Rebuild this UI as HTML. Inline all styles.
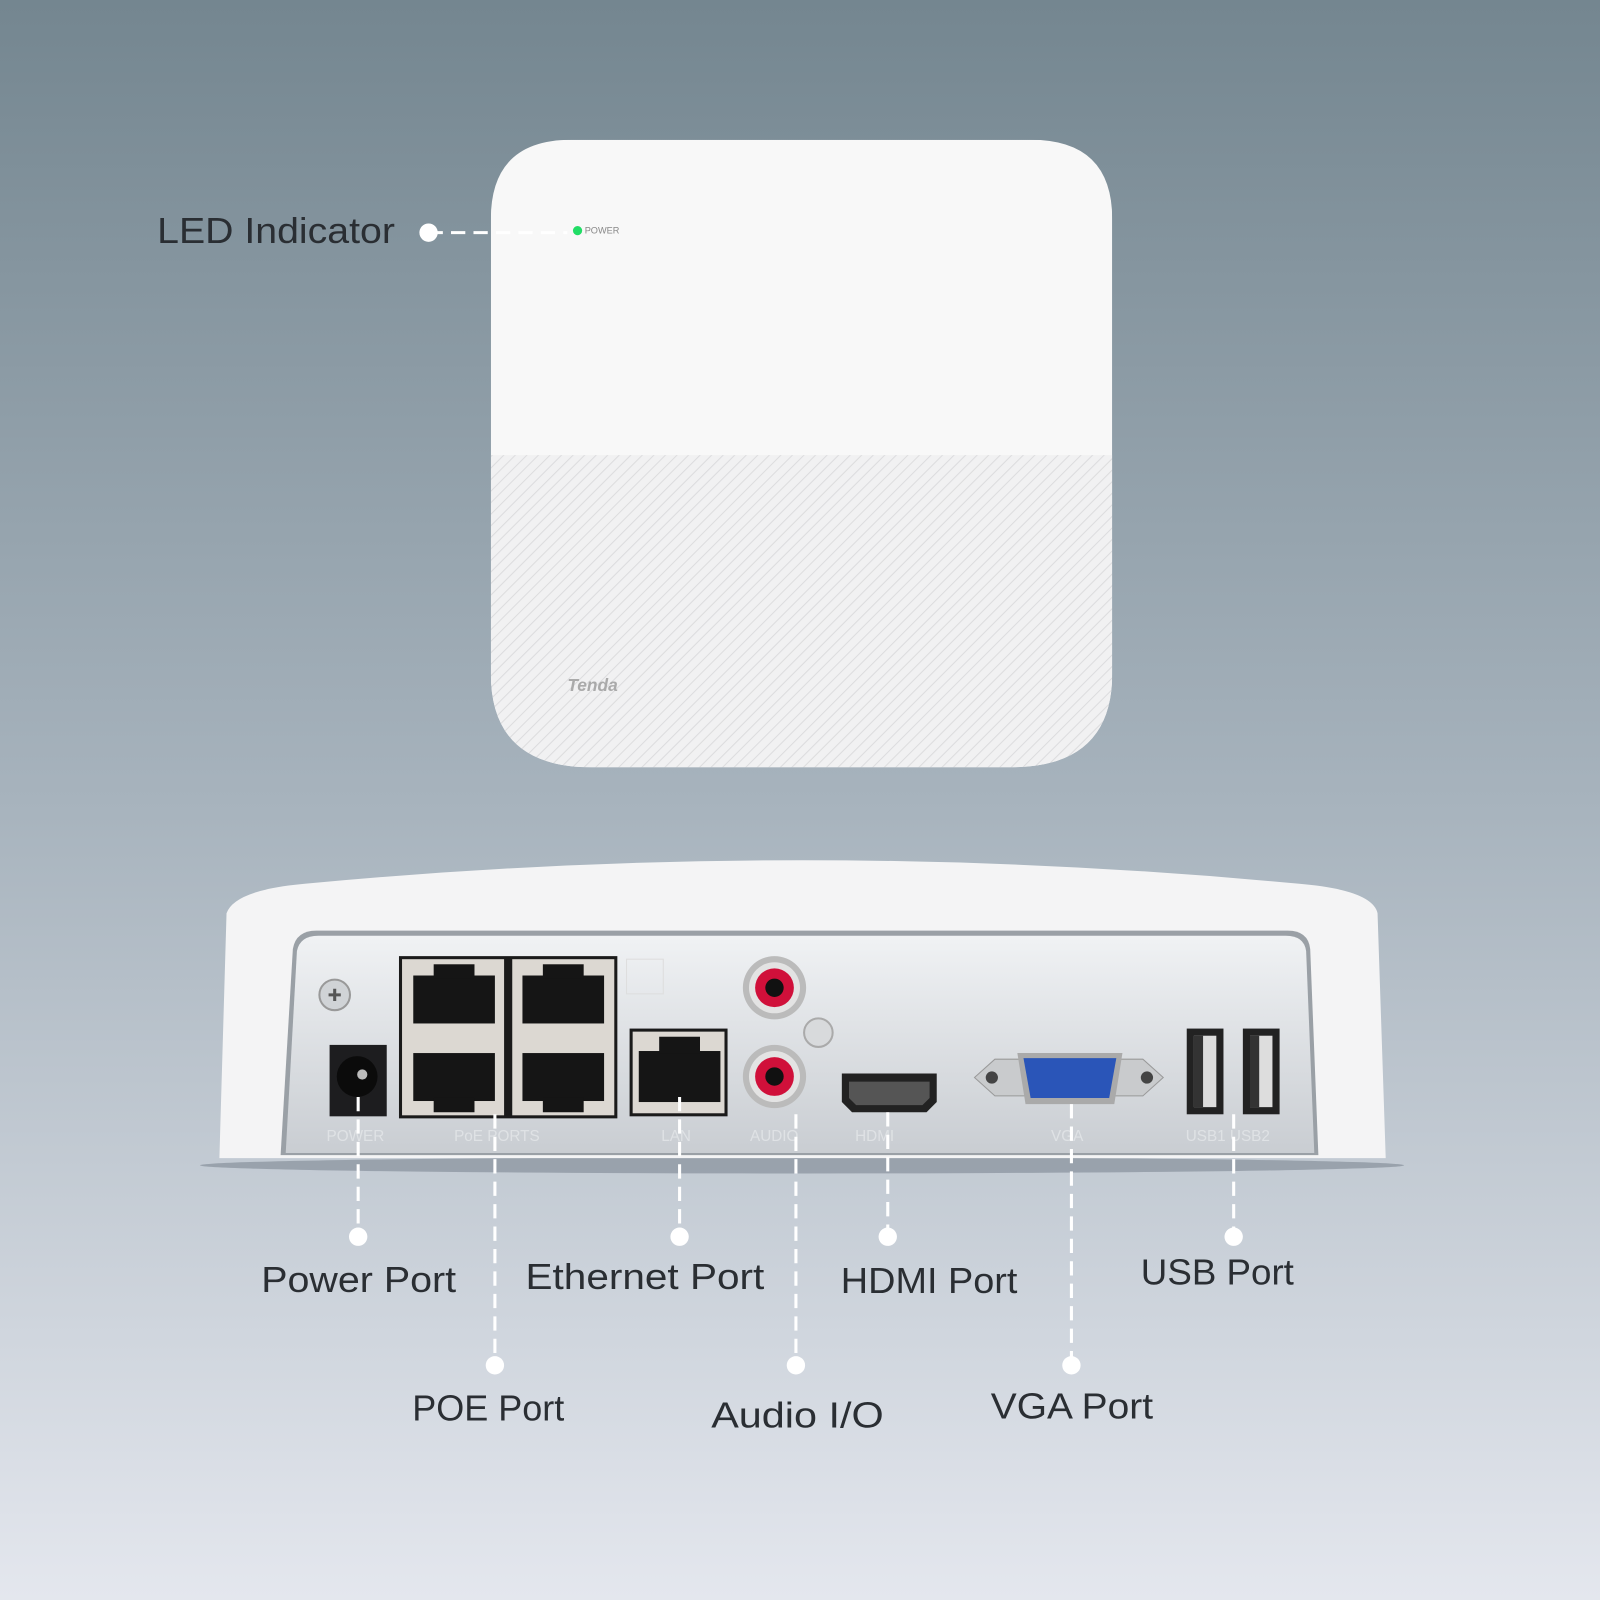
<!DOCTYPE html>
<html><head><meta charset="utf-8"><style>
html,body{margin:0;padding:0;width:1600px;height:1600px;overflow:hidden}
svg{display:block}
text{font-family:"Liberation Sans",sans-serif}
</style></head><body>
<svg width="1600" height="1600" viewBox="0 0 1568 1568" xmlns="http://www.w3.org/2000/svg">
<defs>
<linearGradient id="bg" x1="0" y1="0" x2="0" y2="1">
<stop offset="0" stop-color="#748690"/><stop offset="0.5" stop-color="#a7b3bd"/><stop offset="1" stop-color="#e4e7ee"/>
</linearGradient>
<pattern id="hatch" width="8" height="8" patternUnits="userSpaceOnUse" patternTransform="rotate(45)">
<rect width="8" height="8" fill="#f1f1f2"/><line x1="0" y1="0" x2="0" y2="8" stroke="#dcdcde" stroke-width="2"/>
</pattern>
<linearGradient id="panel" x1="0" y1="0" x2="0" y2="1">
<stop offset="0" stop-color="#f0f2f4"/><stop offset="1" stop-color="#c9cdd2"/>
</linearGradient>
<clipPath id="topc"><path d="M560 137 H1010 Q1090 137 1090 215 V660 Q1090 752 990 752 H580 Q481 752 481 660 V215 Q481 137 560 137 Z"/></clipPath>
</defs>
<rect width="1568" height="1568" fill="url(#bg)"/>

<!-- top device -->
<g clip-path="url(#topc)">
<rect x="481" y="137" width="609" height="615" fill="#f8f8f8"/>
<rect x="481" y="446" width="609" height="306" fill="url(#hatch)"/>
</g>
<circle cx="566" cy="226" r="4.5" fill="#22dd66"/>
<text x="573" y="229" font-size="9" fill="#888">POWER</text>
<text x="556" y="677" font-size="17" font-style="italic" font-weight="bold" fill="#aaa">Tenda</text>
<text x="154" y="238" font-size="35" fill="#2a2e33" textLength="233" lengthAdjust="spacingAndGlyphs">LED Indicator</text>
<circle cx="420" cy="228" r="9" fill="#fff"/>
<line x1="420" y1="228" x2="556" y2="228" stroke="#fff" stroke-width="3" stroke-dasharray="14,8"/>

<!-- bottom device -->
<ellipse cx="786" cy="1142" rx="590" ry="8" fill="#6f7a85" opacity="0.5"/>
<path d="M215 1135 L222 895 Q230 872 300 866 Q786 820 1272 866 Q1345 872 1350 895 L1358 1135 Z" fill="#f4f4f5"/>
<path d="M275 1132 L287 930 Q290 912 310 912 L1262 912 Q1282 912 1284 930 L1292 1132 Z" fill="#9aa0a6"/>
<path d="M280 1130 L291 932 Q294 917 312 917 L1260 917 Q1278 917 1280 932 L1288 1130 Z" fill="url(#panel)"/>
<circle cx="328" cy="975" r="15" fill="#d0d3d6" stroke="#999" stroke-width="2"/>
<path d="M322 975 h12 M328 969 v12" stroke="#555" stroke-width="3"/>
<rect x="323" y="1024" width="56" height="70" fill="#1d1d1f"/>
<circle cx="350" cy="1055" r="20" fill="#0b0b0b"/><circle cx="355" cy="1053" r="5" fill="#bbb"/>
<rect x="391" y="937" width="214" height="159" fill="#1a1a1a"/>
<rect x="394" y="940" width="100" height="153" fill="#dcd8d2"/>
<rect x="502" y="940" width="100" height="153" fill="#dcd8d2"/>
<rect x="405" y="956" width="80" height="47" fill="#151515"/>
<rect x="512" y="956" width="80" height="47" fill="#151515"/>
<rect x="405" y="1032" width="80" height="47" fill="#151515"/>
<rect x="512" y="1032" width="80" height="47" fill="#151515"/>
<rect x="425" y="945" width="40" height="14" fill="#151515"/><rect x="532" y="945" width="40" height="14" fill="#151515"/>
<rect x="425" y="1076" width="40" height="14" fill="#151515"/><rect x="532" y="1076" width="40" height="14" fill="#151515"/>
<rect x="614" y="940" width="36" height="34" fill="none" stroke="#ddd"/>
<rect x="617" y="1008" width="96" height="86" fill="#1a1a1a"/>
<rect x="620" y="1011" width="90" height="80" fill="#dcd8d2"/>
<rect x="626" y="1030" width="80" height="50" fill="#151515"/>
<rect x="646" y="1016" width="40" height="16" fill="#151515"/>
<circle cx="759" cy="968" r="31" fill="#bbb"/><circle cx="759" cy="968" r="25" fill="#e3e3e3"/><circle cx="759" cy="968" r="19" fill="#d0103a"/><circle cx="759" cy="968" r="9" fill="#111"/>
<circle cx="759" cy="1055" r="31" fill="#bbb"/><circle cx="759" cy="1055" r="25" fill="#e3e3e3"/><circle cx="759" cy="1055" r="19" fill="#d0103a"/><circle cx="759" cy="1055" r="9" fill="#111"/>
<circle cx="802" cy="1012" r="14" fill="#d8dadc" stroke="#aaa" stroke-width="2"/>
<path d="M825 1052 H918 V1080 L908 1090 H835 L825 1080 Z" fill="#222"/>
<path d="M832 1060 H911 V1076 L904 1083 H839 L832 1076 Z" fill="#555"/>
<path d="M955 1056 L975 1038 H1120 L1140 1056 L1120 1074 H975 Z" fill="#c9cbcd" stroke="#999"/>
<circle cx="972" cy="1056" r="6" fill="#444"/><circle cx="1124" cy="1056" r="6" fill="#444"/>
<path d="M997 1032 H1100 L1092 1082 H1005 Z" fill="#aaa"/>
<path d="M1003 1037 H1094 L1087 1076 H1010 Z" fill="#2a55b8"/>
<rect x="1163" y="1008" width="36" height="84" fill="#222"/><rect x="1170" y="1015" width="22" height="70" fill="#ddd"/><rect x="1170" y="1015" width="9" height="70" fill="#333"/>
<rect x="1218" y="1008" width="36" height="84" fill="#222"/><rect x="1225" y="1015" width="22" height="70" fill="#ddd"/><rect x="1225" y="1015" width="9" height="70" fill="#333"/>
<g font-size="15" fill="#dfe2e5">
<text x="320" y="1118">POWER</text><text x="445" y="1118">PoE PORTS</text><text x="648" y="1118">LAN</text><text x="735" y="1118">AUDIO</text><text x="838" y="1118">HDMI</text><text x="1030" y="1118">VGA</text><text x="1162" y="1118">USB1 USB2</text>
</g>

<g stroke="#fff" stroke-width="3" stroke-dasharray="14,8">
<line x1="351" y1="1075" x2="351" y2="1212"/>
<line x1="485" y1="1092" x2="485" y2="1338"/>
<line x1="666" y1="1075" x2="666" y2="1212"/>
<line x1="780" y1="1092" x2="780" y2="1338"/>
<line x1="870" y1="1090" x2="870" y2="1212"/>
<line x1="1050" y1="1082" x2="1050" y2="1338"/>
<line x1="1209" y1="1092" x2="1209" y2="1212"/>
</g>
<g fill="#fff">
<circle cx="351" cy="1212" r="9"/><circle cx="485" cy="1338" r="9"/><circle cx="666" cy="1212" r="9"/><circle cx="780" cy="1338" r="9"/><circle cx="870" cy="1212" r="9"/><circle cx="1050" cy="1338" r="9"/><circle cx="1209" cy="1212" r="9"/>
</g>
<g font-size="35" fill="#2a2e33" lengthAdjust="spacingAndGlyphs">
<text x="256" y="1266" textLength="191" lengthAdjust="spacingAndGlyphs">Power Port</text>
<text x="404" y="1392" textLength="149" lengthAdjust="spacingAndGlyphs">POE Port</text>
<text x="515" y="1263" textLength="234" lengthAdjust="spacingAndGlyphs">Ethernet Port</text>
<text x="697" y="1399" textLength="169" lengthAdjust="spacingAndGlyphs">Audio I/O</text>
<text x="824" y="1267" textLength="173" lengthAdjust="spacingAndGlyphs">HDMI Port</text>
<text x="971" y="1390" textLength="159" lengthAdjust="spacingAndGlyphs">VGA Port</text>
<text x="1118" y="1259" textLength="150" lengthAdjust="spacingAndGlyphs">USB Port</text>
</g>
</svg>
</body></html>
